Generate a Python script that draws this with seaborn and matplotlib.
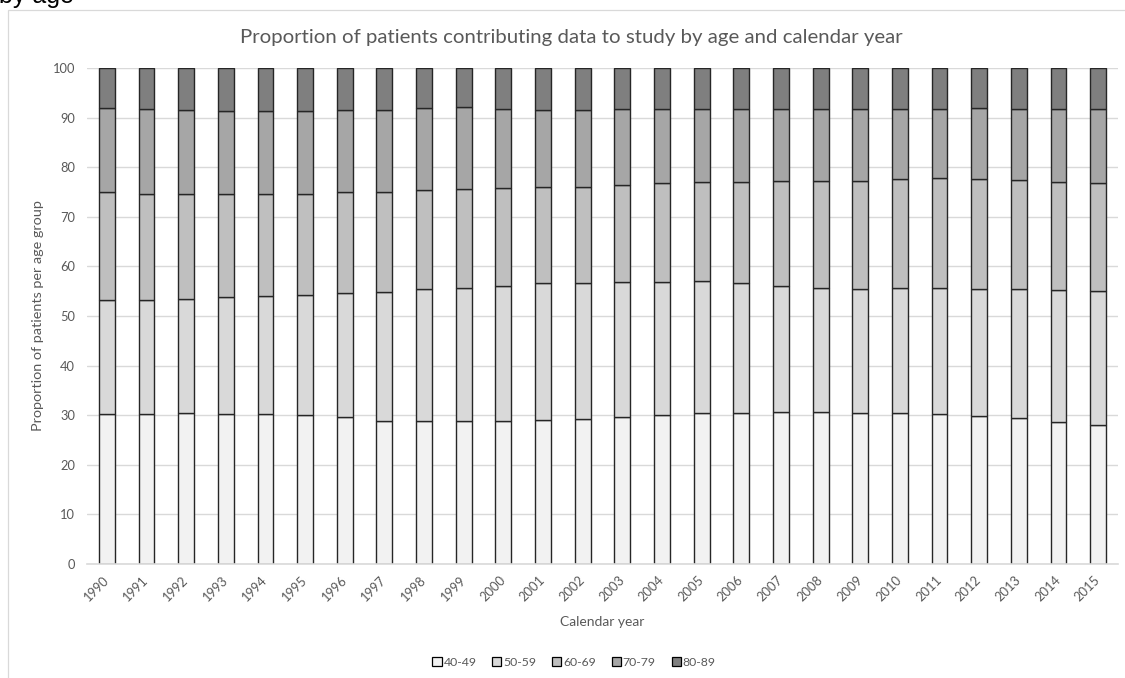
import matplotlib
matplotlib.use("Agg")
import matplotlib.pyplot as plt
from matplotlib.patches import Patch, Rectangle
import numpy as np
import pandas as pd
import seaborn as sns

# Calendar years on the x axis
years = ["1990", "1991", "1992", "1993", "1994", "1995", "1996", "1997", "1998",
         "1999", "2000", "2001", "2002", "2003", "2004", "2005", "2006", "2007",
         "2008", "2009", "2010", "2011", "2012", "2013", "2014", "2015"]

age_groups = ["40-49", "50-59", "60-69", "70-79", "80-89"]

# Percentage of patients in each age group per year
share_40_49 = [30.3, 30.3, 30.5, 30.3, 30.2, 30.0, 29.7, 28.8, 28.8, 28.8, 28.8, 29.1, 29.3,
               29.6, 30.1, 30.5, 30.5, 30.6, 30.6, 30.5, 30.5, 30.2, 29.9, 29.4, 28.7, 28.1]
share_50_59 = [22.9, 22.9, 22.9, 23.5, 23.9, 24.3, 25.0, 26.0, 26.6, 26.8, 27.2, 27.5, 27.3,
               27.2, 26.7, 26.5, 26.1, 25.4, 25.0, 25.0, 25.1, 25.4, 25.6, 26.1, 26.5, 26.9]
share_60_69 = [21.9, 21.4, 21.1, 20.8, 20.5, 20.3, 20.3, 20.2, 20.1, 20.0, 19.8, 19.5, 19.5,
               19.7, 20.1, 20.1, 20.5, 21.3, 21.7, 21.8, 22.0, 22.2, 22.2, 22.0, 21.8, 21.8]
share_70_79 = [16.8, 17.1, 17.0, 16.7, 16.7, 16.7, 16.5, 16.6, 16.4, 16.5, 16.0, 15.5, 15.4,
               15.2, 14.9, 14.7, 14.7, 14.4, 14.4, 14.5, 14.2, 14.0, 14.2, 14.3, 14.8, 15.0]
share_80_89 = [8.1, 8.3, 8.5, 8.7, 8.7, 8.7, 8.5, 8.4, 8.1, 7.9, 8.2, 8.4, 8.5,
               8.3, 8.2, 8.2, 8.2, 8.3, 8.3, 8.2, 8.2, 8.2, 8.1, 8.2, 8.2, 8.2]

group_colors = ["#F2F2F2", "#D9D9D9", "#BFBFBF", "#A6A6A6", "#7F7F7F"]

df = pd.DataFrame({
    "year": years,
    "40-49": share_40_49,
    "50-59": share_50_59,
    "60-69": share_60_69,
    "70-79": share_70_79,
    "80-89": share_80_89,
})

sns.set_theme(style="white")
plt.rcParams["font.family"] = ["Lato", "DejaVu Sans"]

TEXT_GREY = "#595959"
LINE_GREY = "#D9D9D9"
W, H = 1125, 678

fig = plt.figure(figsize=(W / 100, H / 100), dpi=100)
fig.patch.set_facecolor("white")

# chart frame
fig.add_artist(Rectangle((8 / W, -0.2), (1134 - 8) / W, 1.2 - 9.5 / H,
                         transform=fig.transFigure, fill=False,
                         edgecolor=LINE_GREY, linewidth=0.9))

ax = fig.add_axes([87 / W, 1 - 564 / H, (1118 - 87) / W, (564 - 68) / H])

# stacked bars, one layer per age group
base = np.zeros(len(years))
for grp, col in zip(age_groups, group_colors):
    sns.barplot(data=df, x="year", y=grp, color=col, saturation=1, width=0.4,
                bottom=base, edgecolor="#262626", linewidth=1.0,
                errorbar=None, ax=ax)
    base = base + df[grp].to_numpy()

ax.set_xlim(-0.5, len(years) - 0.5)
ax.set_ylim(0, 100)
ax.set_yticks(range(0, 101, 10))
ax.set_axisbelow(True)
ax.yaxis.grid(True, color=LINE_GREY, linewidth=1.0)
ax.xaxis.grid(False)
for side in ["left", "right", "top"]:
    ax.spines[side].set_visible(False)
ax.spines["bottom"].set_color(LINE_GREY)
ax.spines["bottom"].set_linewidth(1.2)

ax.tick_params(axis="y", length=0, pad=8.5, labelsize=9.3, labelcolor=TEXT_GREY)
ax.tick_params(axis="x", length=0, pad=10, labelsize=9.3, labelcolor=TEXT_GREY)
ax.set_xticks(range(len(years)))
ax.set_xticklabels(years, rotation=45, ha="right", va="center",
                   rotation_mode="anchor")

ax.set_xlabel("Calendar year", fontsize=10, color=TEXT_GREY, labelpad=9)
ax.set_ylabel("Proportion of patients per age group", fontsize=10.4,
              color=TEXT_GREY, labelpad=6)

fig.text(571 / W, 1 - 38 / H,
         "Proportion of patients contributing data to study by age and calendar year",
         ha="center", va="center", fontsize=14.7, color=TEXT_GREY)

fig.text(-1 / W, 1 - 3 / H, "by age", ha="left", va="baseline",
         fontsize=18, color="black", family=["Liberation Sans", "DejaVu Sans"])

handles = [Patch(facecolor=c, edgecolor="black", linewidth=0.9) for c in group_colors]
fig.legend(handles, age_groups, loc="center", bbox_to_anchor=(574 / W, 1 - 662 / H),
           ncol=5, frameon=False, fontsize=8.8, labelcolor=TEXT_GREY,
           handlelength=0.75, handleheight=0.75, handletextpad=0.15,
           columnspacing=1.3)

fig.savefig("out.png", dpi=100, facecolor="white")
